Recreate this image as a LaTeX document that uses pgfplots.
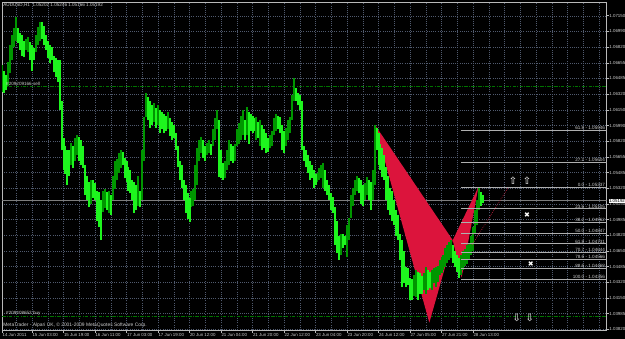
\documentclass[border=0pt]{standalone}
\usepackage{pgfplots}
\pgfplotsset{compat=1.18}
\usepackage{pgfplotstable}
\usepackage{fontspec}
\setmainfont{Liberation Sans}
\newfontfamily\symfont{DejaVu Sans}
\definecolor{barup}{RGB}{0,150,0}
\definecolor{bardn}{RGB}{30,245,30}
\definecolor{crim}{RGB}{220,20,60}
\definecolor{gridc}{RGB}{80,90,110}
\definecolor{framec}{RGB}{185,185,185}
\definecolor{txt}{RGB}{205,205,205}
\definecolor{fibc}{RGB}{175,175,175}
\definecolor{ordc}{RGB}{0,115,0}
\definecolor{bidc}{RGB}{125,125,125}
\newcommand\tfont{\fontsize{4.4bp}{5bp}\selectfont}
\newcommand\lfont{\fontsize{4.6bp}{5.2bp}\selectfont}

\pgfplotstableread{
n lo hi
1 1.0635 1.0664
4 1.0642 1.0667
5 1.0655 1.0685
6 1.0669 1.0696
7 1.0683 1.0703
8 1.0690 1.0715
13 1.0680 1.0692
14 1.0678 1.0694
18 1.0678 1.0696
19 1.0685 1.0704
20 1.0690 1.0710
36 1.0557 1.0581
38 1.0562 1.0586
39 1.0568 1.0589
46 1.0516 1.0541
52 1.0507 1.0530
53 1.0511 1.0532
55 1.0506 1.0530
57 1.0520 1.0546
58 1.0532 1.0562
59 1.0541 1.0564
60 1.0549 1.0570
61 1.0554 1.0573
70 1.0514 1.0546
72 1.0520 1.0573
73 1.0562 1.0608
74 1.0608 1.0634
78 1.0603 1.0623
80 1.0600 1.0621
85 1.0596 1.0614
97 1.0512 1.0530
98 1.0514 1.0532
99 1.0520 1.0557
100 1.0536 1.0575
101 1.0562 1.0584
102 1.0570 1.0587
105 1.0568 1.0581
106 1.0570 1.0584
108 1.0578 1.0596
109 1.0584 1.0607
110 1.0596 1.0616
114 1.0543 1.0562
115 1.0552 1.0573
116 1.0557 1.0584
119 1.0562 1.0580
120 1.0578 1.0596
121 1.0580 1.0602
122 1.0584 1.0610
123 1.0589 1.0616
125 1.0589 1.0619
130 1.0584 1.0608
132 1.0578 1.0605
137 1.0575 1.0589
138 1.0578 1.0594
139 1.0589 1.0607
140 1.0594 1.0612
145 1.0578 1.0597
146 1.0584 1.0605
147 1.0591 1.0608
148 1.0605 1.0632
149 1.0626 1.0650
161 1.0539 1.0549
162 1.0541 1.0554
163 1.0543 1.0557
164 1.0533 1.0559
173 1.0461 1.0484
176 1.0459 1.0493
177 1.0477 1.0501
178 1.0501 1.0525
179 1.0514 1.0533
180 1.0525 1.0541
181 1.0530 1.0546
185 1.0520 1.0538
186 1.0525 1.0544
189 1.0520 1.0552
190 1.0536 1.0600
210 1.0418 1.0440
211 1.0416 1.0445
215 1.0424 1.0442
216 1.0420 1.0448
219 1.0424 1.0445
220 1.0431 1.0447
221 1.0427 1.0448
222 1.0432 1.0450
223 1.0440 1.0456
224 1.0442 1.0459
225 1.0445 1.0461
226 1.0448 1.0469
227 1.0453 1.0472
228 1.0456 1.0475
229 1.0458 1.0477
234 1.0440 1.0461
235 1.0445 1.0466
236 1.0450 1.0468
237 1.0452 1.0472
238 1.0456 1.0474
239 1.0461 1.0482
240 1.0466 1.0491
241 1.0484 1.0509
242 1.0493 1.0520
243 1.0509 1.0534
}\upbars

\pgfplotstableread{
n lo hi
2 1.0634 1.0658
3 1.0637 1.0653
9 1.0687 1.0703
10 1.0680 1.0698
11 1.0674 1.0696
12 1.0672 1.0690
15 1.0669 1.0688
16 1.0658 1.0685
17 1.0669 1.0682
21 1.0692 1.0710
22 1.0685 1.0706
23 1.0680 1.0696
24 1.0671 1.0690
25 1.0666 1.0685
26 1.0669 1.0683
27 1.0656 1.0674
28 1.0651 1.0671
29 1.0646 1.0669
30 1.0616 1.0669
31 1.0573 1.0626
32 1.0552 1.0586
33 1.0548 1.0578
34 1.0536 1.0573
35 1.0546 1.0573
37 1.0554 1.0578
40 1.0562 1.0587
41 1.0557 1.0584
42 1.0554 1.0578
43 1.0525 1.0557
44 1.0520 1.0546
45 1.0512 1.0539
47 1.0522 1.0541
48 1.0520 1.0538
49 1.0498 1.0530
50 1.0491 1.0528
51 1.0477 1.0520
54 1.0509 1.0528
56 1.0504 1.0525
62 1.0557 1.0571
63 1.0543 1.0565
64 1.0539 1.0562
65 1.0530 1.0555
66 1.0527 1.0552
67 1.0520 1.0541
68 1.0506 1.0539
69 1.0509 1.0536
71 1.0512 1.0530
75 1.0605 1.0630
76 1.0597 1.0626
77 1.0600 1.0621
79 1.0597 1.0618
81 1.0591 1.0616
82 1.0596 1.0614
83 1.0591 1.0612
84 1.0594 1.0610
86 1.0588 1.0607
87 1.0584 1.0603
88 1.0586 1.0600
89 1.0573 1.0591
90 1.0555 1.0578
91 1.0541 1.0562
92 1.0533 1.0557
93 1.0520 1.0541
94 1.0506 1.0536
95 1.0500 1.0527
96 1.0496 1.0522
103 1.0565 1.0584
104 1.0562 1.0578
107 1.0568 1.0580
111 1.0544 1.0605
112 1.0543 1.0573
113 1.0541 1.0559
117 1.0562 1.0580
118 1.0559 1.0578
124 1.0584 1.0605
126 1.0580 1.0614
127 1.0594 1.0612
128 1.0591 1.0610
129 1.0594 1.0607
131 1.0586 1.0603
133 1.0573 1.0600
134 1.0575 1.0596
135 1.0570 1.0591
136 1.0571 1.0586
141 1.0596 1.0610
142 1.0591 1.0608
143 1.0573 1.0600
144 1.0570 1.0594
150 1.0626 1.0639
151 1.0621 1.0634
152 1.0616 1.0632
153 1.0573 1.0626
154 1.0562 1.0578
155 1.0555 1.0573
156 1.0549 1.0568
157 1.0541 1.0562
158 1.0543 1.0557
159 1.0533 1.0552
160 1.0536 1.0548
165 1.0530 1.0552
166 1.0525 1.0541
167 1.0520 1.0536
168 1.0509 1.0527
169 1.0506 1.0523
170 1.0472 1.0512
171 1.0463 1.0498
172 1.0456 1.0482
174 1.0469 1.0484
175 1.0472 1.0482
182 1.0527 1.0543
183 1.0516 1.0541
184 1.0514 1.0536
187 1.0520 1.0541
188 1.0509 1.0539
191 1.0573 1.0597
192 1.0557 1.0591
193 1.0552 1.0580
194 1.0544 1.0575
195 1.0541 1.0568
196 1.0520 1.0555
197 1.0509 1.0546
198 1.0504 1.0533
199 1.0498 1.0530
200 1.0493 1.0520
201 1.0482 1.0509
202 1.0477 1.0504
203 1.0456 1.0484
204 1.0427 1.0477
205 1.0431 1.0466
206 1.0427 1.0448
207 1.0429 1.0447
208 1.0413 1.0437
209 1.0413 1.0436
212 1.0413 1.0443
213 1.0420 1.0442
214 1.0420 1.0439
217 1.0424 1.0445
218 1.0426 1.0443
230 1.0453 1.0472
231 1.0448 1.0466
232 1.0443 1.0461
233 1.0437 1.0458
244 1.0514 1.0528
245 1.0517 1.0525
}\dnbars

\begin{document}
\begin{tikzpicture}
\fill[black] (0,0) rectangle (625bp,339bp);
\useasboundingbox (0,0) rectangle (625bp,339bp);
\begin{axis}[
  at={(2bp,9bp)}, anchor=south west, scale only axis,
  width=604.7bp, height=328bp,
  xmin=0.76, xmax=307.9, ymin=1.03812, ymax=1.07312,
  axis line style={framec, line width=0.8bp},
  scaled ticks=false,
  xtick={0.8,16,32,48,64,80,96,112,128,144,160,176,192,208,224,240},
  xticklabels={14 Jun 2011,15 Jun 03:00,15 Jun 19:00,16 Jun 11:00,17 Jun 03:00,17 Jun 19:00,20 Jun 12:00,21 Jun 04:00,21 Jun 20:00,22 Jun 12:00,23 Jun 04:00,23 Jun 20:00,24 Jun 12:00,27 Jun 05:00,27 Jun 21:00,28 Jun 13:00},
  minor xtick={8,16,...,304},
  ytick={1.07165,1.06998,1.06830,1.06663,1.06496,1.06328,1.06161,1.05994,1.05827,1.05659,1.05492,1.05324,1.05157,1.04990,1.04823,1.04655,1.04488,1.04321,1.04153,1.03986,1.03819},
  yticklabels={1.07150,1.06990,1.06820,1.06655,1.06485,1.06320,1.06150,1.05990,1.05820,1.05655,1.05485,1.05320,1.05150,1.04985,1.04820,1.04650,1.04485,1.04320,1.04150,1.03985,1.03820},
  grid=both,
  major grid style={gridc, dash pattern=on 1bp off 1.2bp, line width=0.5bp},
  minor grid style={gridc, dash pattern=on 1bp off 1.2bp, line width=0.5bp},
  tick align=outside, major tick length=2.5bp, minor tick length=0pt,
  tick style={framec, line width=0.6bp},
  xtick pos=left, ytick pos=right, yticklabel pos=right,
  xticklabel style={font=\tfont, text=txt, anchor=north west, inner sep=0pt, xshift=0.3bp, yshift=-0.5bp},
  yticklabel style={font=\tfont, text=txt, anchor=west, inner sep=0pt},
]
% order lines and bid line
\addplot[ordc, line width=0.8bp, dash pattern=on 3.5bp off 1.2bp on 1bp off 1.2bp] coordinates {(0.76,1.06415) (307.9,1.06415)};
\addplot[ordc, line width=0.8bp, dash pattern=on 3.5bp off 1.2bp on 1bp off 1.2bp] coordinates {(0.76,1.03954) (307.9,1.03954)};
\addplot[bidc, line width=0.7bp] coordinates {(0.76,1.05192) (307.9,1.05192)};
% harmonic pattern
\addplot[fill=crim, draw=none] coordinates {(190.2,1.0600) (217.8,1.0389) (229.7,1.0477) (190.2,1.0600)};
\addplot[fill=crim, draw=none] coordinates {(229.7,1.0477) (242.7,1.05337) (234.2,1.0437) (229.7,1.0477)};
% bars
\addplot[draw=none, mark=none, error bars/.cd, y dir=plus, y explicit, error mark=none,
  error bar style={draw=barup, solid, line width=2bp}]
  table[x=n, y=lo, y error plus expr=\thisrow{hi}-\thisrow{lo}] {\upbars};
\addplot[draw=none, mark=none, error bars/.cd, y dir=plus, y explicit, error mark=none,
  error bar style={draw=bardn, solid, line width=2bp}]
  table[x=n, y=lo, y error plus expr=\thisrow{hi}-\thisrow{lo}] {\dnbars};
% dotted projection
\addplot[color={rgb,255:red,190;green,30;blue,60}, line width=0.7bp, dash pattern=on 0.7bp off 1.3bp] coordinates {(239.5,1.0472) (257.8,1.0533)};
% fibonacci levels
\addplot[fibc, line width=0.8bp] coordinates {(233.8,1.05946) (307.9,1.05946)};
\addplot[fibc, line width=0.8bp] coordinates {(233.8,1.05604) (307.9,1.05604)};
\addplot[fibc, line width=0.8bp] coordinates {(233.8,1.05337) (307.9,1.05337)};
\addplot[fibc, line width=0.8bp] coordinates {(233.8,1.05105) (307.9,1.05105)};
\addplot[fibc, line width=0.8bp] coordinates {(233.8,1.04962) (307.9,1.04962)};
\addplot[fibc, line width=0.8bp] coordinates {(233.8,1.04847) (307.9,1.04847)};
\addplot[fibc, line width=0.8bp] coordinates {(233.8,1.04731) (307.9,1.04731)};
\addplot[fibc, line width=0.8bp] coordinates {(233.8,1.04644) (307.9,1.04644)};
\addplot[fibc, line width=0.8bp] coordinates {(233.8,1.04566) (307.9,1.04566)};
\addplot[fibc, line width=0.8bp] coordinates {(233.8,1.04468) (307.9,1.04468)};
\addplot[fibc, line width=0.8bp] coordinates {(233.8,1.04356) (307.9,1.04356)};
\begin{scope}[every node/.style={anchor=south east, inner sep=0pt, text=txt, font=\lfont, xshift=-1.5bp, yshift=0.5bp}]
\node at (axis cs:307.9,1.05946) {61.8 - 1.05946};
\node at (axis cs:307.9,1.05604) {27.2 - 1.05604};
\node at (axis cs:307.9,1.05337) {0.0 - 1.05337};
\node at (axis cs:307.9,1.05105) {23.6 - 1.05105};
\node at (axis cs:307.9,1.04962) {38.2 - 1.04962};
\node at (axis cs:307.9,1.04847) {50.0 - 1.04847};
\node at (axis cs:307.9,1.04731) {61.8 - 1.04731};
\node at (axis cs:307.9,1.04644) {70.7 - 1.04644};
\node at (axis cs:307.9,1.04566) {78.6 - 1.04566};
\node at (axis cs:307.9,1.04468) {88.6 - 1.04468};
\node at (axis cs:307.9,1.04356) {100.0 - 1.04356};
\end{scope}
% trade arrows and marks
\addplot[only marks, mark=text, text mark={⇧}, text mark as node=true,
  text mark style={font={\symfont\fontsize{10bp}{11bp}\selectfont}, text=white}] coordinates {(260.3,1.0540) (267.4,1.0540)};
\addplot[only marks, mark=text, text mark={⇩}, text mark as node=true,
  text mark style={font={\symfont\fontsize{10bp}{11bp}\selectfont}, text=white}] coordinates {(262.2,1.0394) (268.9,1.0394)};
\addplot[only marks, mark=text, text mark={✖}, text mark as node=true,
  text mark style={font={\symfont\fontsize{7bp}{8bp}\selectfont}, text=white}] coordinates {(267.4,1.0504) (269.4,1.0452)};
% texts
\node[anchor=south west, inner sep=0pt, text=txt, font=\lfont, yshift=0.6bp] at (axis cs:2.8,1.06415) {\#209209166 sell};
\node[anchor=south west, inner sep=0pt, text=txt, font=\lfont, yshift=0.6bp] at (axis cs:2.8,1.03954) {\#209408652 buy};
\node[anchor=north west, inner sep=0pt, text=txt, font=\lfont, xshift=1.2bp, yshift=-1.5bp] at (rel axis cs:0,1) {AUDUSD,H1\ \ 1.05202 1.05246 1.05166 1.05192};
\node[anchor=south west, inner sep=0pt, text=txt, font=\fontsize{4.9bp}{5.5bp}\selectfont, xshift=1.2bp, yshift=2.2bp] at (rel axis cs:0,0) {MetaTrader - Alpari UK, © 2001-2009 MetaQuotes Software Corp.};
\coordinate (bidpt) at (axis cs:307.9,1.05192);
\end{axis}
\node[anchor=west, fill=white, text=black, inner sep=0.5bp, font=\tfont, xshift=1.6bp] at (bidpt) {1.05192};
\end{tikzpicture}
\end{document}
